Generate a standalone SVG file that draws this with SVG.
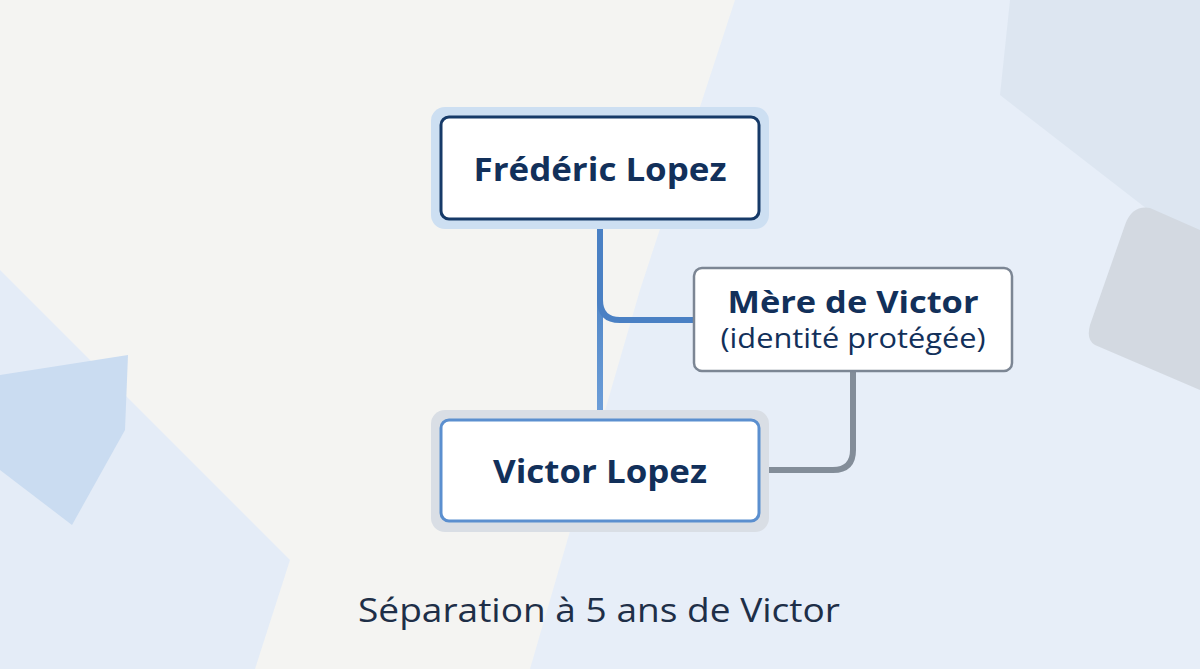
<svg xmlns="http://www.w3.org/2000/svg" width="1200" height="669" viewBox="0 0 1200 669">
<style>
.bold{font-family:"Open Sans","Liberation Sans",sans-serif;font-weight:700;fill:#12305a;text-anchor:middle}
.reg{font-family:"Open Sans","Liberation Sans",sans-serif;font-weight:400;fill:#12305a;text-anchor:middle}
.conn{fill:none;stroke-width:6;stroke-linecap:butt}
</style>
<defs>
<linearGradient id="bl" gradientUnits="userSpaceOnUse" x1="0" y1="219" x2="0" y2="420">
<stop offset="0" stop-color="#3f78bd"/><stop offset="1" stop-color="#6e9fd9"/>
</linearGradient>
</defs>
<g id="background">
<rect width="1200" height="669" fill="#f4f4f2"/>
<polygon points="735,0 1200,0 1200,669 530,669 640,290" fill="#e7eef8"/>
<polygon points="1010,0 1200,0 1200,250 1000,95" fill="#dde6f1"/>
<path d="M1150,208 L1200,230 L1200,390 L1095,345 Q1086,340 1090,325 L1125,225 Q1132,205 1150,208Z" fill="#d3d9e1"/>
<polygon points="0,270 290,560 255,669 0,669" fill="#e4ecf7"/>
<polygon points="0,375 128,355 125,430 72,525 0,470" fill="#cadcf1"/>
</g>
<g id="connectors">
<path class="conn" d="M600,219 L600,420" stroke="url(#bl)"/>
<path class="conn" d="M600,219 L600,300 Q600,320 620,320 L694,320" stroke="#4a80c4"/>
<path class="conn" d="M853,371 L853,450 Q853,470 833,470 L759,470" stroke="#838d99"/>
</g>
<g id="node-frederic">
<rect x="431" y="107" width="338" height="122" rx="14" fill="#cddff2"/>
<rect x="441" y="117" width="318" height="102" rx="8" fill="#ffffff" stroke="#163a68" stroke-width="3"/>
<text class="bold" x="600" y="181" font-size="33" textLength="253" lengthAdjust="spacingAndGlyphs">Frédéric Lopez</text>
</g>
<g id="node-mere">
<rect x="694" y="268" width="318" height="103" rx="8" fill="#ffffff" stroke="#7c8694" stroke-width="2.5"/>
<text class="bold" x="853" y="313" font-size="31" textLength="251" lengthAdjust="spacingAndGlyphs">Mère de Victor</text>
<text class="reg" x="853" y="348" font-size="27" textLength="265" lengthAdjust="spacingAndGlyphs">(identité protégée)</text>
</g>
<g id="node-victor">
<rect x="431" y="410" width="338" height="122" rx="14" fill="#d9dee5"/>
<rect x="441" y="420" width="318" height="101" rx="8" fill="#ffffff" stroke="#5b8fcf" stroke-width="3"/>
<text class="bold" x="600" y="483" font-size="33" textLength="214" lengthAdjust="spacingAndGlyphs">Victor Lopez</text>
</g>
<g id="caption">
<text class="reg" x="599" y="622" font-size="33" style="fill:#1e2f48" textLength="482" lengthAdjust="spacingAndGlyphs">Séparation à 5 ans de Victor</text>
</g>
</svg>
